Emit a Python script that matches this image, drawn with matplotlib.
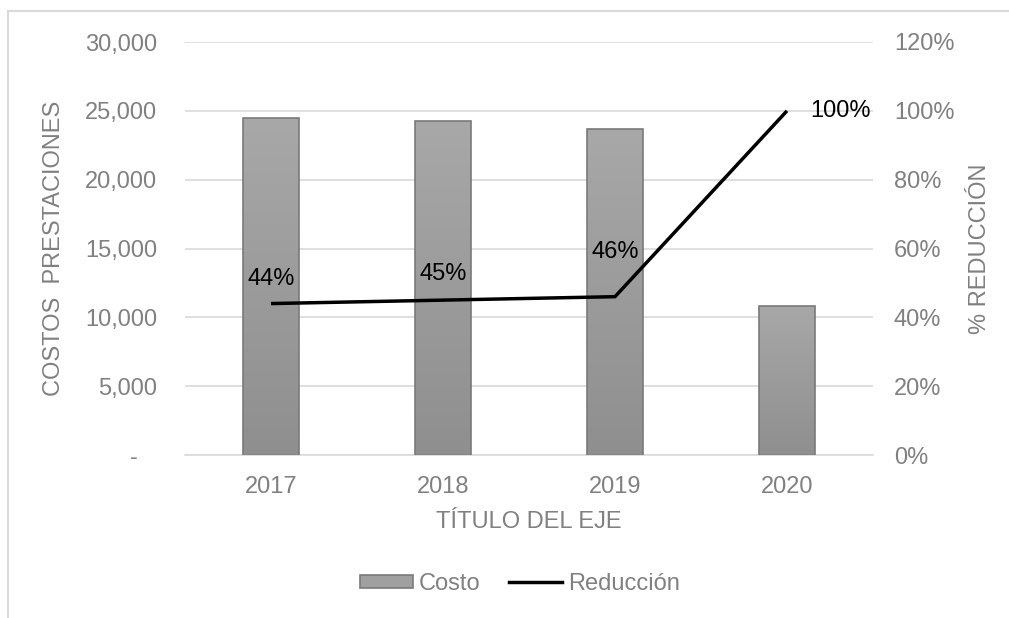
import matplotlib
matplotlib.use("Agg")
import matplotlib.pyplot as plt
import numpy as np
from matplotlib.patches import Rectangle, Patch
from matplotlib.lines import Line2D
from matplotlib.ticker import FuncFormatter, MultipleLocator
from matplotlib.colors import LinearSegmentedColormap

plt.rcParams['font.family'] = ['Liberation Sans', 'DejaVu Sans']

years = ['2017', '2018', '2019', '2020']
costo = [24500, 24250, 23680, 10850]
reduccion = [0.44, 0.45, 0.46, 1.00]
red_labels = ['44%', '45%', '46%', '100%']

W, H = 1009, 618
fig = plt.figure(figsize=(W / 100, H / 100), dpi=100)
ax = fig.add_axes([185 / W, 1 - 455 / H, (873 - 185) / W, (455 - 42) / H])
ax2 = ax.twinx()

tick_color = '#808080'
fs = 17

x = np.arange(len(years))

# grid
ax.yaxis.set_major_locator(MultipleLocator(5000))
ax2.yaxis.set_major_locator(MultipleLocator(0.2))
ax.grid(axis='y', color='#d9d9d9', linewidth=1.2, zorder=0)
ax.set_axisbelow(True)

# bars with gradient
bw = 0.32
bars = ax.bar(x, costo, width=bw, color='none', edgecolor='#7a7a7a', linewidth=1.2, zorder=3)
grad = np.linspace(0, 1, 256).reshape(-1, 1)
cmap = LinearSegmentedColormap.from_list('g', ['#8f8f8f', '#a8a8a8'])
for b in bars:
    bx, by = b.get_x(), b.get_y()
    bwid, bh = b.get_width(), b.get_height()
    im = ax.imshow(grad, cmap=cmap, aspect='auto', origin='lower',
                   extent=[bx, bx + bwid, by, by + bh], zorder=2)
    clip = Rectangle((bx, by), bwid, bh, transform=ax.transData)
    im.set_clip_path(clip)
ax.set_xlim(-0.5, len(years) - 0.5)
ax.set_ylim(0, 30000)
ax2.set_ylim(0, 1.2)

# line
ax2.plot(x, reduccion, color='black', linewidth=2.5, zorder=5, solid_capstyle='butt')
offsets = [(0, 9.5), (0, 11), (0, 24), (16.5, 0)]
has = ['center', 'center', 'center', 'left']
vas = ['bottom', 'bottom', 'bottom', 'center']
for xi, yi, lab, off, ha, va in zip(x, reduccion, red_labels, offsets, has, vas):
    ax2.annotate(lab, (xi, yi), xytext=off, textcoords='offset points',
                 ha=ha, va=va, fontsize=fs, color='black', zorder=6)

# ticks / formats
ax.yaxis.set_major_formatter(FuncFormatter(lambda v, p: '-   ' if v == 0 else f'{int(v):,}'))
ax2.yaxis.set_major_formatter(FuncFormatter(lambda v, p: f'{v*100:.0f}%'))
ax.set_xticks(x)
ax.set_xticklabels(years)
for a in (ax, ax2):
    for s in a.spines.values():
        s.set_visible(False)
    a.tick_params(length=0, labelsize=fs, colors=tick_color)
ax.tick_params(axis='y', pad=20)
ax.tick_params(axis='x', pad=15)
ax2.tick_params(axis='y', pad=15)
ax.spines['bottom'].set_visible(True)
ax.spines['bottom'].set_color('#d9d9d9')
ax.spines['bottom'].set_linewidth(1.2)

ax.set_xlabel('TÍTULO DEL EJE', fontsize=fs, color=tick_color)
ax.xaxis.set_label_coords(0.5, 1 - (522 - 42) / 413)
ax.xaxis.label.set_va('center')
ax.set_ylabel('COSTOS  PRESTACIONES', fontsize=fs, color=tick_color)
ax.yaxis.set_label_coords((54 - 185) / 688, 0.5)
ax.yaxis.label.set_va('center')
ax2.set_ylabel('% REDUCCIÓN', fontsize=fs, color=tick_color)
ax2.yaxis.set_label_coords((980 - 185) / 688, 0.5)
ax2.yaxis.label.set_va('center')

# legend
handles = [Patch(facecolor='#a0a0a0', edgecolor='#7a7a7a', linewidth=1.2),
           Line2D([0], [0], color='black', linewidth=2.5)]
fig.legend(handles, ['Costo', 'Reducción'], loc='center', bbox_to_anchor=(520 / W, 1 - 584 / H),
           ncol=2, frameon=False, fontsize=fs, labelcolor=tick_color,
           handlelength=2.25, handleheight=0.5, columnspacing=1.2, handletextpad=0.25)

# outer border
fig.patches.append(Rectangle((8 / W, -0.1), 1.2, (1 - 11 / H) + 0.1, transform=fig.transFigure,
                             fill=False, edgecolor='#d9d9d9', linewidth=1.5))

fig.savefig('out.png', dpi=100)
